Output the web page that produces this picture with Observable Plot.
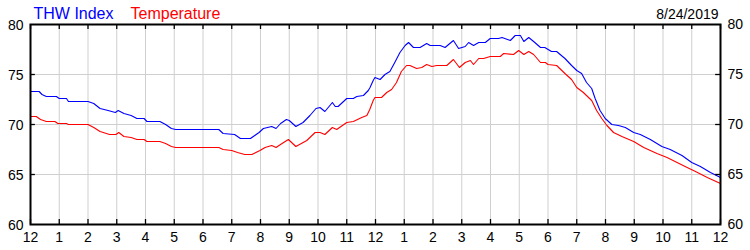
<!DOCTYPE html>
<html>
<head>
<meta charset="utf-8">
<script src="https://cdn.jsdelivr.net/npm/d3@7"></script>
<script src="https://cdn.jsdelivr.net/npm/@observablehq/plot@0.6"></script>
<style>
  html, body { margin: 0; padding: 0; background: #fff; }
  #chart { width: 750px; height: 250px; }
</style>
</head>
<body>
<div id="chart"></div>
<script>
// ---- Data ----
const seriesNames = ["THW Index", "Temperature"];
const seriesColors = ["#0000ff", "#ff0000"];
const dateLabel = "8/24/2019";

const hourLabels = ["12","1","2","3","4","5","6","7","8","9","10","11","12","1","2","3","4","5","6","7","8","9","10","11","12"];
const yTickValues = [60, 65, 70, 75, 80];
const yGridValues = [65, 70, 75];

const thwHours = [0,0.3,0.4,0.55,0.9,1.0,1.25,1.32,2.0,2.2,2.42,2.7,2.95,3.05,3.25,3.5,3.7,3.95,4.05,4.5,4.7,4.9,5.05,6.55,6.7,7.1,7.3,7.65,7.8,7.95,8.1,8.39,8.54,8.7,8.9,9.0,9.23,9.48,9.72,9.93,10.07,10.24,10.5,10.6,10.7,11.0,11.23,11.35,11.58,11.75,11.81,11.92,11.98,12.16,12.33,12.5,12.67,12.85,13.03,13.15,13.32,13.55,13.78,13.9,14.25,14.42,14.71,14.89,15.12,15.24,15.41,15.59,15.82,15.99,16.28,16.4,16.69,16.86,17.04,17.16,17.33,17.5,17.74,17.89,18.12,18.3,18.59,18.82,19.0,19.17,19.34,19.52,19.64,19.81,19.99,20.22,20.45,20.69,20.98,21.21,21.56,21.96,22.25,22.66,23.0,23.3,23.65,24];
const thwValues = [73.3,73.3,73.0,72.8,72.8,72.6,72.6,72.3,72.3,72.1,71.6,71.4,71.2,71.4,71.1,70.9,70.6,70.6,70.3,70.3,70.0,69.6,69.5,69.5,69.1,69.0,68.6,68.6,68.9,69.2,69.6,69.8,69.6,70.1,70.5,70.4,69.8,70.2,70.9,71.6,71.7,71.3,72.2,71.8,71.8,72.6,72.6,72.8,72.9,73.4,73.7,74.4,74.7,74.5,75.0,75.3,76.2,77.2,77.9,78.2,77.7,77.7,78.1,77.9,77.9,77.7,78.4,77.6,77.8,78.2,77.9,78.2,78.2,78.6,78.6,78.7,78.4,78.9,78.9,78.3,78.7,78.3,77.7,77.7,77.3,77.3,76.6,75.9,75.4,75.1,74.2,73.6,72.6,71.4,70.6,70.0,69.9,69.7,69.2,69.0,68.5,67.8,67.5,66.9,66.2,65.8,65.2,64.7];

const tempHours = [0,0.2,0.35,0.55,0.85,0.95,1.25,1.32,2.0,2.2,2.42,2.75,2.97,3.07,3.25,3.5,3.7,3.95,4.05,4.5,4.7,4.9,5.05,6.55,6.7,7.0,7.2,7.45,7.7,7.98,8.16,8.39,8.54,8.75,8.97,9.23,9.61,9.9,10.07,10.24,10.5,10.65,11.0,11.23,11.52,11.7,11.8,11.92,11.98,12.21,12.39,12.56,12.73,12.9,13.08,13.2,13.43,13.61,13.78,13.96,14.13,14.48,14.71,14.92,15.12,15.3,15.41,15.59,15.76,15.99,16.34,16.46,16.8,16.98,17.16,17.33,17.5,17.74,17.91,18.0,18.3,18.59,18.82,19.0,19.23,19.52,19.69,19.87,20.05,20.28,20.57,20.98,21.33,21.79,22.14,22.49,22.84,23.13,23.54,24];
const tempValues = [70.8,70.8,70.5,70.3,70.3,70.1,70.1,70.0,70.0,69.7,69.3,69.0,69.0,69.2,68.8,68.7,68.5,68.5,68.3,68.3,68.1,67.8,67.7,67.7,67.5,67.4,67.2,67.0,67.0,67.4,67.7,67.9,67.7,68.1,68.5,67.8,68.4,69.2,69.2,69.0,69.7,69.5,70.2,70.3,70.7,70.9,71.5,72.4,72.7,72.7,73.2,73.5,74.2,75.3,75.9,75.9,75.6,75.7,76.0,75.8,75.9,75.9,76.5,75.7,76.2,76.4,76.0,76.6,76.6,76.8,76.8,77.1,77.0,77.4,77.0,77.3,77.0,76.2,76.2,76.0,75.9,75.1,74.5,73.7,73.2,72.4,71.4,70.6,69.9,69.2,68.8,68.3,67.7,67.1,66.7,66.2,65.7,65.3,64.7,64.1];

// ---- Build tables ----
const hourTicks = hourLabels.map((_, i) => i);
const thwRows = thwHours.map((h, i) => ({h, v: thwValues[i]}));
const tempRows = tempHours.map((h, i) => ({h, v: tempValues[i]}));
const fontFamily = "'Liberation Sans', Arial, Helvetica, sans-serif";

const chart = Plot.plot({
  width: 750,
  height: 250,
  marginLeft: 30,
  marginRight: 30,
  marginTop: 24,
  marginBottom: 26,
  style: {fontFamily, fontSize: "14px", background: "#fff", color: "#000", overflow: "visible"},
  x: {domain: [0, 24], axis: null},
  y: {domain: [60, 80], axis: null},
  marks: [
    Plot.ruleX(hourTicks.slice(1, -1), {stroke: "#cfcfcf", strokeWidth: 1}),
    Plot.ruleY(yGridValues, {stroke: "#cfcfcf", strokeWidth: 1}),
    Plot.line(tempRows, {x: "h", y: "v", stroke: seriesColors[1], strokeWidth: 1.1}),
    Plot.line(thwRows, {x: "h", y: "v", stroke: seriesColors[0], strokeWidth: 1.1}),
    Plot.ruleX(hourTicks, {y1: 60, y2: 60.5, stroke: "#000", strokeWidth: 1.3}),
    Plot.ruleX(hourTicks, {y1: 79.5, y2: 80, stroke: "#000", strokeWidth: 1.3}),
    Plot.ruleY(yGridValues, {x1: 0, x2: 0.17, stroke: "#000", strokeWidth: 1.3}),
    Plot.ruleY(yGridValues, {x1: 23.83, x2: 24, stroke: "#000", strokeWidth: 1.3}),
    Plot.frame({stroke: "#000", strokeWidth: 2}),
    // bottom hour labels
    Plot.text(hourTicks, {x: d => d, y: 60, text: d => hourLabels[d], dy: 13, fontSize: 14, fill: "#000"}),
    // left & right value labels
    Plot.text(yTickValues, {x: 0, y: d => d, text: d => String(d), textAnchor: "end", dx: -7, dy: 1, fontSize: 14, fill: "#000"}),
    Plot.text(yTickValues, {x: 24, y: d => d, text: d => String(d), textAnchor: "start", dx: 7, dy: 0, fontSize: 14, fill: "#000"}),
    // legend
    Plot.text([seriesNames[0]], {frameAnchor: "top-left", text: d => d, textAnchor: "start", lineAnchor: "bottom", dx: 3, dy: -6, fontSize: 16, fill: seriesColors[0]}),
    Plot.text([seriesNames[1]], {frameAnchor: "top-left", text: d => d, textAnchor: "start", lineAnchor: "bottom", dx: 100, dy: -6, fontSize: 16, fill: seriesColors[1]}),
    Plot.text([dateLabel], {frameAnchor: "top-right", text: d => d, textAnchor: "end", lineAnchor: "bottom", dx: -2, dy: -6, fontSize: 14, fill: "#000"})
  ]
});
document.getElementById("chart").appendChild(chart);
</script>
</body>
</html>
